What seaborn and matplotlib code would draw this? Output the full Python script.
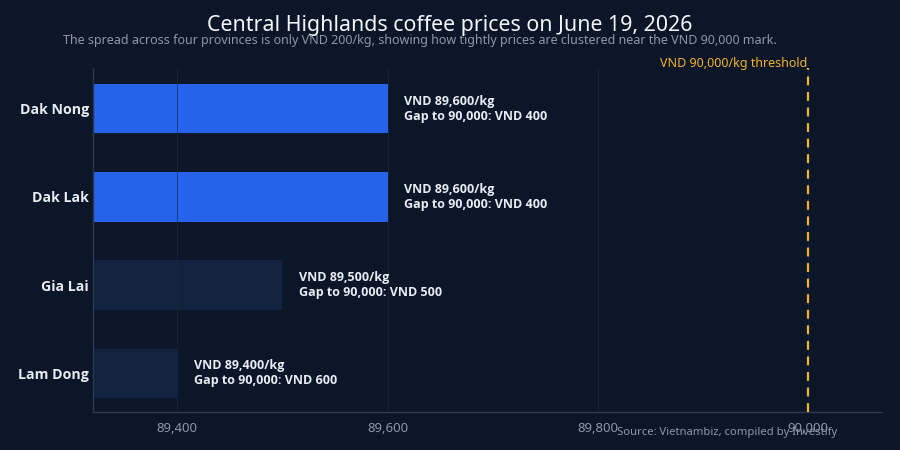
import matplotlib
matplotlib.use("Agg")
import matplotlib.pyplot as plt
import seaborn as sns
import pandas as pd
from matplotlib.ticker import FuncFormatter

provinces = ["Dak Nong", "Dak Lak", "Gia Lai", "Lam Dong"]
prices = [89600, 89600, 89500, 89400]
highlight = ["top", "top", "other", "other"]
threshold = 90000
xticks = [89400, 89600, 89800, 90000]

BG = "#0b1628"
BLUE = "#2563eb"
DARK = "#13233f"
ORANGE = "#f5b12e"
GRID = "#1c2a3f"
TXT = "#e8edf4"
MUTED = "#8d97a8"
BOLD = ["Open Sans", "DejaVu Sans"]

sns.set_theme(style="dark")
plt.rcParams["font.family"] = ["Noto Sans", "DejaVu Sans"]

df = pd.DataFrame({"province": provinces, "price": prices, "group": highlight})

fig = plt.figure(figsize=(9, 4.5), dpi=100, facecolor=BG)
ax = fig.add_axes([0.1033, 0.0844, 0.8767, 0.764])
ax.set_facecolor(BG)

sns.barplot(data=df, y="province", x="price", hue="group", orient="h",
            palette={"top": BLUE, "other": DARK}, dodge=False, width=0.56,
            saturation=1, edgecolor="none", linewidth=0,
            legend=False, ax=ax, zorder=1)

ax.set_xlim(89320, 90070)
ax.set_ylim(3.44, -0.46)
ax.set_xticks(xticks)
ax.xaxis.set_major_formatter(FuncFormatter(lambda v, p: f"{v:,.0f}"))
ax.grid(axis="x", color=GRID, linewidth=0.8, alpha=0.6)
ax.grid(axis="y", visible=False)
ax.set_axisbelow(False)
for l in ax.get_xgridlines():
    l.set_zorder(2)
ax.set_xlabel("")
ax.set_ylabel("")

for s in ["top", "right"]:
    ax.spines[s].set_visible(False)
for s in ["left", "bottom"]:
    ax.spines[s].set_visible(True)
    ax.spines[s].set_color("#2b3850")
    ax.spines[s].set_linewidth(1)

ax.tick_params(axis="x", colors=MUTED, labelsize=9.5, length=4, width=0.8, color="#2b3850", pad=3)
ax.tick_params(axis="y", length=0, labelsize=10.2, labelcolor=TXT, pad=3)
for lab in ax.get_yticklabels():
    lab.set_fontweight("bold")
    lab.set_family(BOLD)

for i, (p, v) in enumerate(zip(provinces, prices)):
    ax.text(v + 16, i, f"VND {v:,.0f}/kg\nGap to 90,000: VND {threshold - v:,.0f}",
            va="center", ha="left", color=TXT, fontsize=9, fontweight="bold",
            family=BOLD, linespacing=1.25, zorder=5)

ax.axvline(threshold, color=ORANGE, linestyle=(0, (4, 3)), linewidth=1.6, zorder=4)
ax.text(threshold - 1, -0.44, "VND 90,000/kg threshold", color=ORANGE,
        fontsize=9, ha="right", va="bottom", clip_on=False)

fig.text(0.5, 0.943, "Central Highlands coffee prices on June 19, 2026",
         ha="center", va="center", color="#f2f5f9", fontsize=15.4)
fig.text(0.467, 0.91, "The spread across four provinces is only VND 200/kg, showing how tightly prices are clustered near the VND 90,000 mark.",
         ha="center", va="center", color=MUTED, fontsize=9)
fig.text(0.93, 0.04, "Source: Vietnambiz, compiled by Investify",
         ha="right", va="center", color=MUTED, fontsize=8.1)

fig.savefig("out.png", dpi=100, facecolor=BG)
